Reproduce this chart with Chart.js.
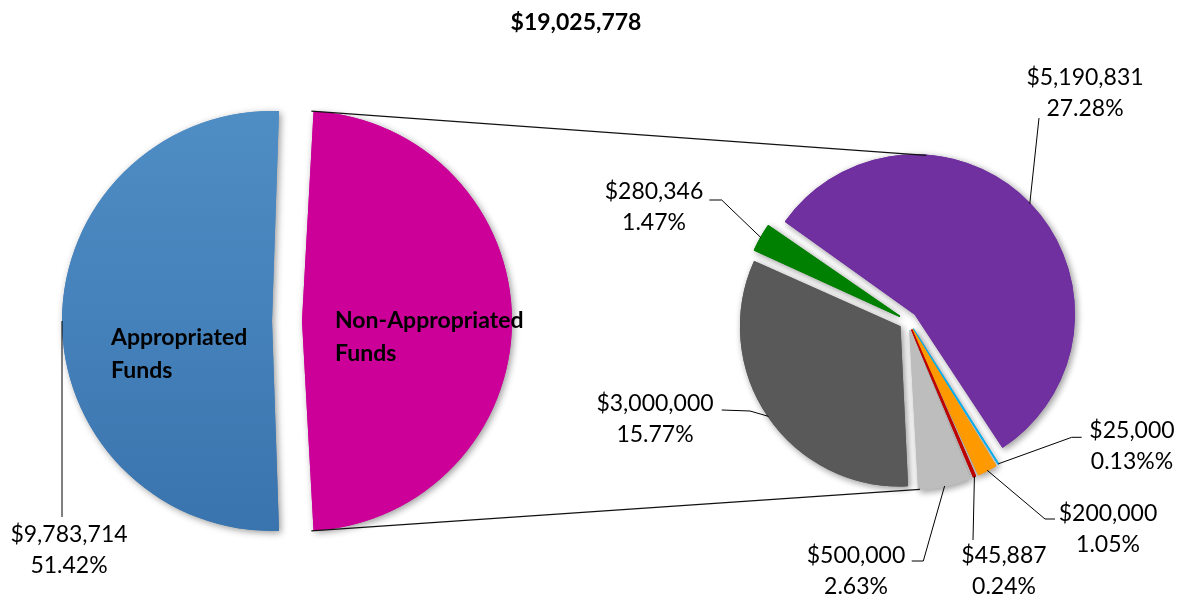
<!DOCTYPE html>
<html>
<head>
<meta charset="utf-8">
<script src="https://cdn.jsdelivr.net/npm/chart.js@4.4.1/dist/chart.umd.min.js"></script>
<style>
  html, body { margin: 0; padding: 0; background: #ffffff; }
  #wrap { position: relative; width: 1186px; height: 600px; overflow: hidden; }
  #wrap canvas { position: absolute; left: 0; top: 0; }
  #title { position: absolute; left: 376px; width: 400px; top: 6px; text-align: center;
           font: bold 23px Lato, "Open Sans", sans-serif; color: #000; line-height: 30px; }
</style>
</head>
<body>
<div id="wrap">
  <canvas id="primary" width="1186" height="600"></canvas>
  <canvas id="secondary" width="1186" height="600"></canvas>
  <div id="title"></div>
</div>
<script>
// ---------------- DATA ----------------
const primaryLabels = ['Non-Appropriated Funds', 'Appropriated Funds'];
const primaryValues = [9242064, 9783714];
const primaryPctLabels = ['48.58%', '51.42%'];

const secondaryLabels = ['Source A', 'Source B', 'Source C', 'Source D', 'Source E', 'Source F', 'Source G'];
const secondaryValues = [5190831, 25000, 200000, 45887, 500000, 3000000, 280346];
const secondaryPctLabels = ['27.28%', '0.13%%', '1.05%', '0.24%', '2.63%', '15.77%', '1.47%'];

// ---------------- STYLE / LAYOUT ----------------
const FONT_FAMILY = 'Lato, "Open Sans", sans-serif';
const VALUE_FONT = '23px ' + FONT_FAMILY;
const BOLD_FONT = 'bold 23px ' + FONT_FAMILY;
const LINE_GAP = 31;

const primaryColors = ['#CC0099', null]; // index 1 uses gradient
const secondaryColors = ['#7030A0', '#00B0F0', '#FF9900', '#C00000', '#BDBDBD', '#595959', '#008000'];

const PRIMARY_R = 210, PRIMARY_EXPLODE = 15;
const SECONDARY_R = 159, SECONDARY_EXPLODE = 10;

// label placements relative to each pie's centre (text centre x, first line y, leader path points)
const primaryLabelLayout = [
  null,
  { tx: -218, ty: 214, path: [[-225, 196]] }
];
const primaryInsideLayout = [
  { x: 48, y: 0, lines: ['Non-Appropriated', 'Funds'] },
  { x: -176, y: 17, lines: ['Appropriated', 'Funds'] }
];
const secondaryLabelLayout = [
  { tx: 177, ty: -243, path: [[131, -203]] },
  { tx: 224, ty: 110, path: [[163.7, 116.3], [173.7, 116.3]] },
  { tx: 200, ty: 193, path: [[137, 198], [147, 198]] },
  { tx: 96, ty: 235, path: [[65, 219]] },
  { tx: -52, ty: 235, path: [[15.3, 240], [3.7, 240]] },
  { tx: -253, ty: 83, path: [[-158, 90], [-186.3, 89]] },
  { tx: -254, ty: -129, path: [[-186.3, -121], [-198.7, -121]] }
];
const CONNECT_TOP_DEG = 4, CONNECT_BOTTOM_DEG = 176.5;

// ---------------- HELPERS ----------------
function fmtMoney(v) { return '$' + v.toLocaleString('en-US'); }

function arcGeom(el) {
  const off = (el.options.offset || 0) / 4;
  const circ = el.endAngle - el.startAngle;
  const mid = (el.startAngle + el.endAngle) / 2;
  const fix = 1 - Math.sin(Math.min(Math.PI, circ));
  return { cx: el.x + Math.cos(mid) * off, cy: el.y + Math.sin(mid) * off,
           r: el.outerRadius + off * fix, mid, start: el.startAngle, end: el.endAngle, ox: el.x, oy: el.y };
}
function pointAt(g, a) { return { x: g.cx + Math.cos(a) * g.r, y: g.cy + Math.sin(a) * g.r }; }

// keep all exploded slices at the same visible radius
const equalRadius = {
  id: 'equalRadius',
  afterDatasetUpdate(chart, args, opts) {
    const R = opts.radius;
    args.meta.data.forEach(el => {
      const off = (el.options.offset || 0) / 4;
      const circ = el.endAngle - el.startAngle;
      const fix = 1 - Math.sin(Math.min(Math.PI, circ));
      el.outerRadius = R - off * fix;
    });
  }
};

// shadow pass first, then slices redrawn crisp on top
const softShadow = {
  id: 'softShadow',
  beforeDatasetsDraw(chart) {
    const c = chart.ctx;
    c.save();
    c.shadowColor = 'rgba(0,0,0,0.40)';
    c.shadowBlur = 7;
    c.shadowOffsetX = 2;
    c.shadowOffsetY = 2;
  },
  afterDatasetsDraw(chart) {
    const c = chart.ctx;
    c.restore();
    chart.getDatasetMeta(0).data.forEach(el => el.draw(c, chart.chartArea));
  }
};

function drawTwoLine(c, x, y, l1, l2, font) {
  c.font = font;
  c.fillStyle = '#000';
  c.textAlign = 'center';
  c.textBaseline = 'middle';
  c.fillText(l1, x, y);
  c.fillText(l2, x, y + LINE_GAP);
}

function drawLeader(c, start, pts, ox, oy) {
  c.beginPath();
  c.moveTo(start.x, start.y);
  pts.forEach(p => c.lineTo(ox + p[0], oy + p[1]));
  c.strokeStyle = '#000';
  c.lineWidth = 1;
  c.stroke();
}

const primaryLabelsPlugin = {
  id: 'primaryLabels',
  afterDraw(chart) {
    const c = chart.ctx;
    const meta = chart.getDatasetMeta(0);
    c.save();
    meta.data.forEach((el, i) => {
      const g = arcGeom(el);
      const ins = primaryInsideLayout[i];
      if (ins) {
        c.font = BOLD_FONT; c.fillStyle = '#000'; c.textAlign = 'left'; c.textBaseline = 'middle';
        ins.lines.forEach((t, k) => c.fillText(t, g.ox + ins.x, g.oy + ins.y + k * 33));
      }
      const lay = primaryLabelLayout[i];
      if (lay) {
        drawLeader(c, pointAt(g, g.mid), lay.path, g.ox, g.oy);
        drawTwoLine(c, g.ox + lay.tx, g.oy + lay.ty, fmtMoney(primaryValues[i]), primaryPctLabels[i], VALUE_FONT);
      }
    });
    c.restore();
  }
};

let primaryChart;

function findArcAt(meta, deg) {
  const a0 = -Math.PI / 2 + deg * Math.PI / 180;
  for (const el of meta.data) {
    for (const a of [a0, a0 + 2 * Math.PI, a0 - 2 * Math.PI]) {
      if (a >= el.startAngle && a <= el.endAngle) return { el, a };
    }
  }
  return { el: meta.data[0], a: a0 };
}

const secondaryLabelsPlugin = {
  id: 'secondaryLabels',
  afterDraw(chart) {
    const c = chart.ctx;
    const meta = chart.getDatasetMeta(0);
    c.save();
    // connector lines from the split slice of the primary pie
    const pm = primaryChart.getDatasetMeta(0);
    const pg = arcGeom(pm.data[0]);
    const pTop = pointAt(pg, pg.start), pBot = pointAt(pg, pg.end);
    const t = findArcAt(meta, CONNECT_TOP_DEG), b = findArcAt(meta, CONNECT_BOTTOM_DEG);
    const sTop = pointAt(arcGeom(t.el), t.a), sBot = pointAt(arcGeom(b.el), b.a);
    c.strokeStyle = '#111'; c.lineWidth = 1.2;
    c.beginPath(); c.moveTo(pTop.x, pTop.y); c.lineTo(sTop.x, sTop.y); c.stroke();
    c.beginPath(); c.moveTo(pBot.x, pBot.y); c.lineTo(sBot.x, sBot.y); c.stroke();

    meta.data.forEach((el, i) => {
      const g = arcGeom(el);
      const lay = secondaryLabelLayout[i];
      drawLeader(c, pointAt(g, g.mid), lay.path, g.ox, g.oy);
      drawTwoLine(c, g.ox + lay.tx, g.oy + lay.ty, fmtMoney(secondaryValues[i]), secondaryPctLabels[i], VALUE_FONT);
    });
    c.restore();
  }
};

const grandTotal = primaryValues.reduce((a, b) => a + b, 0);
document.getElementById('title').textContent = fmtMoney(grandTotal);

const primaryShare = primaryValues[0] / grandTotal;

primaryChart = new Chart(document.getElementById('primary'), {
  type: 'pie',
  data: {
    labels: primaryLabels,
    datasets: [{
      data: primaryValues,
      borderWidth: 0,
      offset: 4 * PRIMARY_EXPLODE,
      backgroundColor: (ctx) => {
        if (ctx.dataIndex !== 1) return primaryColors[ctx.dataIndex];
        const ch = ctx.chart, a = ch.chartArea;
        if (!a) return '#4080BA';
        const cy = (a.top + a.bottom) / 2;
        const grad = ch.ctx.createLinearGradient(0, cy - PRIMARY_R, 0, cy + PRIMARY_R);
        grad.addColorStop(0, '#4F8DC5');
        grad.addColorStop(1, '#3A74AE');
        return grad;
      }
    }]
  },
  options: {
    responsive: false,
    animation: false,
    events: [],
    radius: PRIMARY_R,
    rotation: 90 - primaryShare * 180,
    layout: { padding: { left: 0, right: 612, top: 42, bottom: 0 } },
    plugins: {
      legend: { display: false },
      tooltip: { enabled: false },
      equalRadius: { radius: PRIMARY_R }
    }
  },
  plugins: [equalRadius, softShadow, primaryLabelsPlugin]
});

new Chart(document.getElementById('secondary'), {
  type: 'pie',
  data: {
    labels: secondaryLabels,
    datasets: [{
      data: secondaryValues,
      borderWidth: 1.6,
      borderColor: secondaryColors,
      borderJoinStyle: 'round',
      offset: 4 * SECONDARY_EXPLODE,
      backgroundColor: secondaryColors
    }]
  },
  options: {
    responsive: false,
    animation: false,
    events: [],
    radius: SECONDARY_R,
    rotation: -55,
    layout: { padding: { left: 630, right: 0, top: 42, bottom: 0 } },
    plugins: {
      legend: { display: false },
      tooltip: { enabled: false },
      equalRadius: { radius: SECONDARY_R }
    }
  },
  plugins: [equalRadius, softShadow, secondaryLabelsPlugin]
});
</script>
</body>
</html>
